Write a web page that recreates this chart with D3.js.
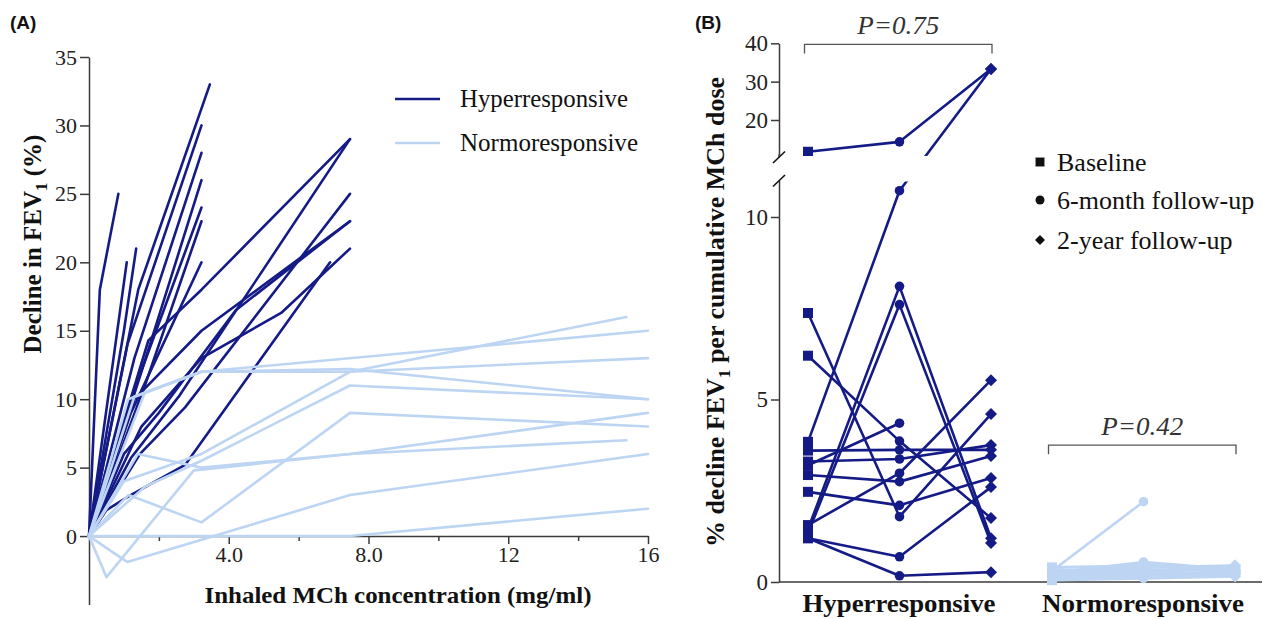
<!DOCTYPE html>
<html><head><meta charset="utf-8">
<script src="https://cdn.jsdelivr.net/npm/d3@7/dist/d3.min.js"></script>
<style>
body{margin:0;background:#fff}
text{font-family:"Liberation Serif","Times New Roman",serif;fill:#111}
text.sans{font-family:"Liberation Sans",Arial,sans-serif}
</style>
</head><body>
<svg id="c" width="1263" height="619" xmlns="http://www.w3.org/2000/svg"></svg>
<script>
// ---------------- DATA ----------------
// Panel A: individual dose-response curves [MCh concentration (mg/ml), decline in FEV1 (%)]
const hyperCurves = [
  [[0,0],[0.31,18],[0.84,25]],
  [[0,0],[1.08,20]],
  [[0,0],[1.0,15],[1.35,21]],
  [[0,0],[1.41,18],[3.46,33]],
  [[0,0],[1.1,14],[3.22,30]],
  [[0,0],[1.3,13],[3.22,28]],
  [[0,0],[1.5,12],[3.22,26]],
  [[0,0],[1.2,10],[3.22,24]],
  [[0,0],[1.6,11],[3.22,23]],
  [[0,0],[1.2,9],[3.22,20]],
  [[0,0],[1.7,14.3],[3.22,18],[7.47,29]],
  [[0,0],[1.2,5.7],[2.6,10.3],[7.47,29]],
  [[0,0],[1.46,6],[2.75,9.4],[7.47,25]],
  [[0,0],[1.3,10],[3.22,15],[7.47,23]],
  [[0,0],[1.5,8],[3.22,13],[5.5,16.3],[7.47,21]],
  [[0,0],[0.5,1.9],[1.13,2.9],[2.75,5.2],[6.9,20]],
  [[0,0],[1.0,6],[2.0,9],[4.2,16.5],[7.47,23]]
];
const normoCurves = [
  [[0,0],[1.12,10],[3.22,12],[7.47,12.2],[16,10]],
  [[0,0],[1.6,10.5],[3.22,12],[16,15]],
  [[0,0],[1.0,4],[3.22,6],[7.47,12],[15.38,16]],
  [[0,0],[1.6,3.6],[3.22,5.5],[7.47,11],[16,10]],
  [[0,0],[1.4,6],[3.22,5],[7.47,6],[16,9]],
  [[0,0],[1.13,3],[3.22,1],[7.47,9],[16,8]],
  [[0,0],[0.5,-3],[3.0,4.8],[7.47,6],[15.38,7]],
  [[0,0],[1.1,-1.9],[7.47,3],[16,6]],
  [[0,0],[7.47,0],[16,2]],
  [[0,0],[1.3,10.2],[3.22,12],[7.47,12],[16,13]]
];
const seriesA = ["Hyperresponsive","Normoresponsive"];
const xTicksA = [4,8,12,16];
const xTickLabelsA = ["4.0","8.0","12","16"];
const xMinorTicksA = [2,6,10,14];
const yTicksA = [0,5,10,15,20,25,30,35];

// Panel B: % decline FEV1 per cumulative MCh dose [baseline, 6-month, 2-year]
const groups = ["Hyperresponsive","Normoresponsive"];
const timepoints = ["Baseline","6-month follow-up","2-year follow-up"];
const hyperB = [
  [11.7,14.3,33.3],
  [3.84,10.72,33.3],
  [1.45,8.10,1.20],
  [1.34,7.60,1.07],
  [7.37,1.79,4.60],
  [6.20,3.86,1.75],
  [3.20,4.35,null],
  [3.60,3.62,3.62],
  [2.47,2.10,2.85],
  [1.56,2.98,5.53],
  [1.20,0.69,2.60],
  [1.20,0.17,0.27],
  [2.93,2.75,3.45],
  [3.30,3.37,3.75]
];
const normoB = [
  [0.30,2.20,null],
  [0.25,0.55,0.35],
  [0.20,0.50,0.25],
  [0.35,0.30,0.45],
  [0.15,0.20,0.30],
  [0.10,0.15,0.20],
  [0.30,0.25,0.40],
  [0.20,0.35,0.30],
  [0.40,0.45,0.35],
  [0.05,0.10,0.15],
  [0.25,0.20,0.25],
  [0.30,0.40,0.45],
  [0.18,0.28,0.22]
];
const pLabels = ["P=0.75","P=0.42"];
const bracketLevels = [39.7, 3.75];
const yTicksBLow = [0,5,10];
const yTicksBHigh = [20,30,40];

// ---------------- STYLE ----------------
const DARK = "#151b86", LIGHT = "#bdd5f3", AXIS = "#3a3a3a";
const svg = d3.select("#c");
svg.append("rect").attr("width",1263).attr("height",619).attr("fill","#fff");

function styleAxis(g, fs){
  g.selectAll("path.domain").attr("stroke",AXIS).attr("stroke-width",1.5);
  g.selectAll(".tick line").attr("stroke",AXIS).attr("stroke-width",1.5);
  g.selectAll(".tick text").attr("font-size",fs).style("fill","#222");
}

// ---------------- PANEL A ----------------
const xA = d3.scaleLinear().domain([0,16]).range([89,648]);
const yA = d3.scaleLinear().domain([-5,35]).range([604.5,57]);

const gYA = svg.append("g").attr("transform",`translate(${xA(0)},0)`)
  .call(d3.axisLeft(yA).tickValues(yTicksA).tickSize(9).tickPadding(3).tickSizeOuter(0));
styleAxis(gYA,22);

const gXA = svg.append("g").attr("transform",`translate(0,${yA(0)})`)
  .call(d3.axisBottom(xA).tickValues(xTicksA).tickFormat((d,i)=>xTickLabelsA[i]).tickSize(8).tickPadding(2).tickSizeOuter(0));
styleAxis(gXA,22);
const gXAm = svg.append("g").attr("transform",`translate(0,${yA(0)})`)
  .call(d3.axisBottom(xA).tickValues(xMinorTicksA).tickFormat("").tickSize(5).tickSizeOuter(0));
gXAm.select("path.domain").remove();
styleAxis(gXAm,22);

const lineA = d3.line().x(d=>xA(d[0])).y(d=>yA(d[1]));
svg.append("g").selectAll("path").data(hyperCurves).join("path")
  .attr("d",lineA).attr("fill","none").attr("stroke",DARK).attr("stroke-width",2.6)
  .attr("stroke-linejoin","round").attr("stroke-linecap","round");
svg.append("g").selectAll("path").data(normoCurves).join("path")
  .attr("d",lineA).attr("fill","none").attr("stroke",LIGHT).attr("stroke-width",2.6)
  .attr("stroke-linejoin","round").attr("stroke-linecap","round");

// legend A
const legA = svg.append("g").selectAll("g").data(seriesA).join("g")
  .attr("transform",(d,i)=>`translate(395,${99+i*44})`);
legA.append("line").attr("x1",0).attr("x2",45).attr("y1",0).attr("y2",0)
  .attr("stroke",(d,i)=>i===0?DARK:LIGHT).attr("stroke-width",2.6);
legA.append("text").attr("x",65).attr("y",8).attr("font-size",25)
  .attr("textLength",(d,i)=>i===0?168:178).attr("lengthAdjust","spacingAndGlyphs").text(d=>d);

// titles A
svg.append("text").attr("x",398).attr("y",603).attr("text-anchor","middle")
  .attr("font-size",24).attr("font-weight","bold").attr("textLength",387).attr("lengthAdjust","spacingAndGlyphs")
  .text("Inhaled MCh concentration (mg/ml)");
const tA = svg.append("text").attr("transform","translate(41,244) rotate(-90)").attr("text-anchor","middle")
  .attr("font-size",25).attr("font-weight","bold");
tA.append("tspan").text("Decline in FEV");
tA.append("tspan").attr("font-size",17).attr("dy",6).text("1");
tA.append("tspan").attr("dy",-6).text(" (%)");

svg.append("text").attr("class","sans").attr("x",10).attr("y",29)
  .attr("font-weight","bold").attr("font-size",19).text("(A)");

// ---------------- PANEL B ----------------
const axisXB = 779;
const groupX = d3.scaleBand().domain(groups).range([777,1265]);
const timeX = d3.scalePoint().domain(timepoints).range([-91,92]);
const fx = (g,t)=>groupX(g)+groupX.bandwidth()/2+timeX(t);
const yLow = d3.scaleLinear().domain([0,11]).range([582,180.5]);
const yHigh = d3.scaleLinear().domain([11,40]).range([154.5,43.3]);
const yB = v => v<=11 ? yLow(v) : yHigh(v);

const gLow = svg.append("g").attr("transform",`translate(${axisXB},0)`)
  .call(d3.axisLeft(yLow).tickValues(yTicksBLow).tickSize(8).tickPadding(3).tickSizeOuter(0));
styleAxis(gLow,23);
const gHigh = svg.append("g").attr("transform",`translate(${axisXB},0)`)
  .call(d3.axisLeft(yHigh).tickValues(yTicksBHigh).tickSize(8).tickPadding(3).tickSizeOuter(0));
styleAxis(gHigh,23);
// extend top axis slightly & break slashes
svg.append("line").attr("x1",axisXB).attr("x2",axisXB).attr("y1",yHigh(11)).attr("y2",yHigh(11)+3)
  .attr("stroke",AXIS).attr("stroke-width",1.5);
[[yHigh(11)+8.5, yHigh(11)-3],[yLow(11)+6,yLow(11)-5.5]].forEach(s=>{
  svg.append("line").attr("x1",axisXB-6).attr("x2",axisXB+6).attr("y1",s[0]).attr("y2",s[1])
    .attr("stroke","#111").attr("stroke-width",1.6);
});
// x baseline
svg.append("line").attr("x1",axisXB).attr("x2",1262).attr("y1",yLow(0)).attr("y2",yLow(0))
  .attr("stroke",AXIS).attr("stroke-width",1.5);

// clip (axis break gap)
const defs = svg.append("defs");
const cp = defs.append("clipPath").attr("id","clipB");
cp.append("rect").attr("x",axisXB).attr("y",0).attr("width",490).attr("height",yHigh(11)+1.5);
cp.append("rect").attr("x",axisXB).attr("y",yLow(11)+1).attr("width",490).attr("height",619);

const plotB = svg.append("g").attr("clip-path","url(#clipB)");
const symTypes = [d3.symbolSquare, d3.symbolCircle, d3.symbolSquare];
const symSizes = [100, 72, 72];
const symRot = [0,0,45];

function drawGroup(data, g, color){
  const line = d3.line().defined(d=>d[1]!==null).x(d=>fx(g,d[0])).y(d=>yB(d[1]));
  const gg = plotB.append("g");
  gg.selectAll("path.l").data(data).join("path").attr("class","l")
    .attr("d",row=>line(row.map((v,i)=>[timepoints[i],v])))
    .attr("fill","none").attr("stroke",color).attr("stroke-width",2.6).attr("stroke-linejoin","round");
  const pts = [];
  data.forEach(row=>row.forEach((v,i)=>{ if(v!==null) pts.push({t:i,v}); }));
  gg.selectAll("path.m").data(pts).join("path").attr("class","m")
    .attr("transform",d=>`translate(${fx(g,timepoints[d.t])},${yB(d.v)}) rotate(${symRot[d.t]})`)
    .attr("d",d=>d3.symbol().type(symTypes[d.t]).size(symSizes[d.t])())
    .attr("fill",color);
}
drawGroup(normoB, groups[1], LIGHT);
drawGroup(hyperB, groups[0], DARK);

// brackets & p values
groups.forEach((g,i)=>{
  const lvl = i===0 ? yHigh(bracketLevels[i]) : yLow(bracketLevels[i]);
  const x1 = fx(g,timepoints[0])-3.5, x2 = fx(g,timepoints[2])+1;
  svg.append("path").attr("d",`M${x1},${lvl+9}V${lvl}H${x2}V${lvl+9}`)
    .attr("fill","none").attr("stroke","#555").attr("stroke-width",1.3);
  svg.append("text").attr("x",(x1+x2)/2).attr("y",lvl-10).attr("text-anchor","middle")
    .attr("font-size",25).attr("font-style","italic").style("fill","#333")
    .attr("textLength",82).attr("lengthAdjust","spacingAndGlyphs").text(pLabels[i]);
  svg.append("text").attr("x",groupX(g)+groupX.bandwidth()/2).attr("y",612).attr("text-anchor","middle")
    .attr("font-size",26).attr("font-weight","bold")
    .attr("textLength",i===0?193:202).attr("lengthAdjust","spacingAndGlyphs").text(g);
});

// legend B
const legB = svg.append("g").selectAll("g").data(timepoints).join("g")
  .attr("transform",(d,i)=>`translate(1040,${[162,200,240][i]})`);
legB.append("path").attr("transform",(d,i)=>`rotate(${symRot[i]})`)
  .attr("d",(d,i)=>d3.symbol().type(symTypes[i]).size([80,64,50][i])()).attr("fill","#111");
legB.append("text").attr("x",17).attr("y",9).attr("font-size",26).text(d=>d);

// y title B
const tB = svg.append("text").attr("transform","translate(724,312) rotate(-90)").attr("text-anchor","middle")
  .attr("font-size",26).attr("font-weight","bold");
tB.append("tspan").text("% decline FEV");
tB.append("tspan").attr("font-size",17).attr("dy",6).text("1");
tB.append("tspan").attr("dy",-6).text(" per cumulative MCh dose");

svg.append("text").attr("class","sans").attr("x",695).attr("y",29)
  .attr("font-weight","bold").attr("font-size",19).text("(B)");
</script>
</body></html>
